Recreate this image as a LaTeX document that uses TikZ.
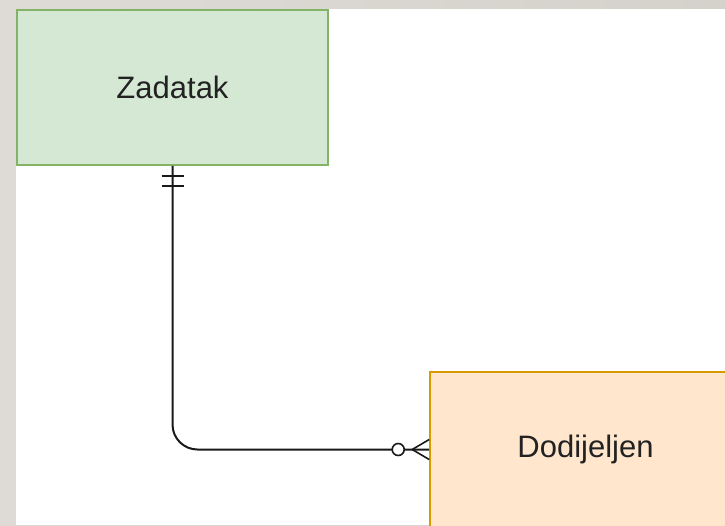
\documentclass[tikz,border=0pt]{standalone}
\usepackage{fontspec}
\setmainfont{Liberation Sans}
\usetikzlibrary{calc}
\definecolor{pagegray}{HTML}{DEDBD6}
\definecolor{pagegrayR}{HTML}{D5D1CB}
\definecolor{greenfill}{HTML}{D5E8D4}
\definecolor{greenline}{HTML}{82B366}
\definecolor{orangefill}{HTML}{FFE6CC}
\definecolor{orangeline}{HTML}{D79B00}
\definecolor{textcol}{HTML}{222222}
\begin{document}
\begin{tikzpicture}[x=1pt,y=-1pt,
  entity/.style={draw, line width=1.6pt, minimum width=311pt, minimum height=155pt,
    inner sep=0pt, font=\fontsize{31}{36}\selectfont, text=textcol},
  conn/.style={line width=2pt, black!90}]
  \useasboundingbox (0,0) rectangle (725,525);
  \clip (0,0) rectangle (725,525);
  % page backdrop and white canvas
  \shade[left color=pagegray, right color=pagegrayR] (0,0) rectangle (725,525);
  \fill[white] (16,9) rectangle (725,525);
  % entities
  \node[entity, fill=greenfill, draw=greenline] (zad) at (172.5,87.5) {Zadatak};
  \node[entity, fill=orangefill, draw=orangeline] (dod) at (585.5,449.5) {Dodijeljen};
  % relationship line
  \draw[conn, rounded corners=25pt] (zad.south) |- (dod.west);
  % one-and-only-one marker
  \draw[conn] ($(zad.south)+(-11,10)$) -- ($(zad.south)+(11,10)$);
  \draw[conn] ($(zad.south)+(-11,20)$) -- ($(zad.south)+(11,20)$);
  % zero-or-many marker
  \draw[conn, line width=1.6pt] ($(dod.west)+(-17,0)$) -- ($(dod.west)+(0,-10)$);
  \draw[conn, line width=1.6pt] ($(dod.west)+(-17,0)$) -- ($(dod.west)+(0,10)$);
  \draw[conn, line width=1.6pt, fill=white] ($(dod.west)+(-31,0)$) circle (6);
\end{tikzpicture}
\end{document}
